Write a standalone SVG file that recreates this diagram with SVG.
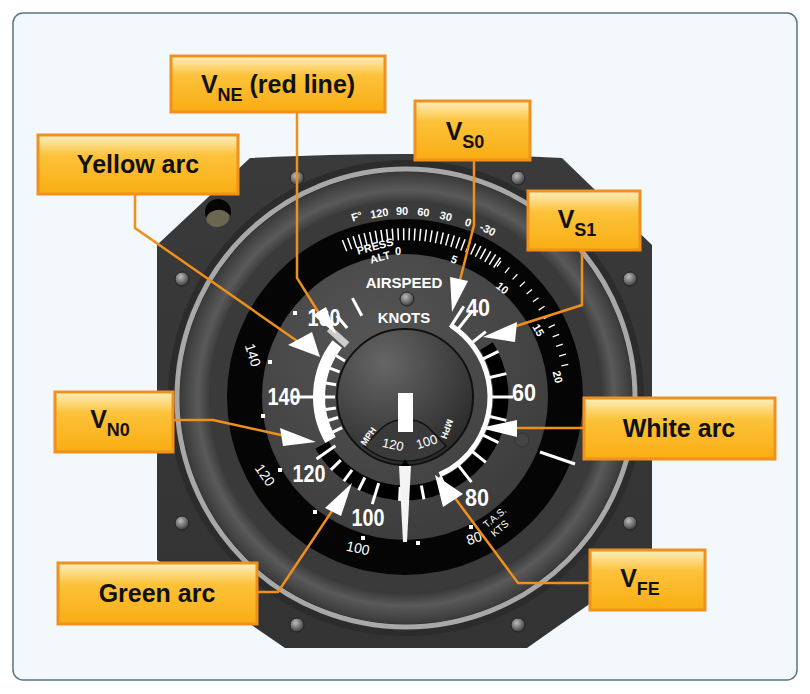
<svg xmlns="http://www.w3.org/2000/svg" width="810" height="694" viewBox="0 0 810 694">
<defs>
<style>
text{font-family:"Liberation Sans",Arial,sans-serif;}
.box rect{fill:url(#bg);stroke:#f0901e;stroke-width:3;}
.box text{font-weight:bold;font-size:25px;fill:#111;text-anchor:middle;}
.lead{fill:none;stroke:#ef8f1c;stroke-width:2.5;}
.arr{fill:#fff;}
.kn{font-weight:bold;font-size:23px;fill:#fff;text-anchor:middle;}
.sm{font-size:11px;font-weight:bold;fill:#fff;text-anchor:middle;}
.tas{font-size:14px;fill:#fff;text-anchor:middle;}
.tk line{stroke:#fff;stroke-width:3;}
.screw{fill:url(#sc);stroke:#222;stroke-width:1;}
</style>
<linearGradient id="bg" x1="0" y1="0" x2="0" y2="1"><stop offset="0" stop-color="#fdf0c0"/><stop offset="0.35" stop-color="#fcc23a"/><stop offset="1" stop-color="#f9ad12"/></linearGradient>
<linearGradient id="plate" x1="0" y1="0" x2="0" y2="1"><stop offset="0" stop-color="#3a3a3a"/><stop offset="1" stop-color="#333"/></linearGradient>
<radialGradient id="sc" cx="0.4" cy="0.35" r="0.7"><stop offset="0" stop-color="#bbb"/><stop offset="1" stop-color="#333"/></radialGradient>
<radialGradient id="ring" cx="0.5" cy="0.5" r="0.5"><stop offset="0.84" stop-color="#2a2a2a"/><stop offset="0.92" stop-color="#5a5a5a"/><stop offset="1" stop-color="#3a3a3a"/></radialGradient>
<radialGradient id="face" cx="0.4" cy="0.3" r="0.8"><stop offset="0" stop-color="#555"/><stop offset="1" stop-color="#3a3a3a"/></radialGradient>
<radialGradient id="hub" cx="0.35" cy="0.25" r="0.85"><stop offset="0" stop-color="#666"/><stop offset="1" stop-color="#262626"/></radialGradient>
</defs>
<rect x="13" y="13" width="784" height="667" rx="10" fill="#f3f8fc" stroke="#5a7385" stroke-width="1.5"/>

<g id="instrument">
<path d="M250,158 Q405,150 562,158 L652,245 L652,560 L527,648 L285,648 L157,560 L157,245 Z" fill="url(#plate)"/>
<circle cx="218" cy="212" r="13" fill="#050505"/>
<path d="M207,222 A13,13 0 0 0 230,216 A12,9 0 0 0 207,222 Z" fill="#6b6650"/>
<circle class="screw" cx="297" cy="178" r="7"/><circle class="screw" cx="518" cy="178" r="7"/>
<circle class="screw" cx="182" cy="279" r="7"/><circle class="screw" cx="630" cy="279" r="7"/>
<circle class="screw" cx="182" cy="523" r="7"/><circle class="screw" cx="630" cy="523" r="7"/>
<circle class="screw" cx="297" cy="625" r="7"/><circle class="screw" cx="518" cy="625" r="7"/>
<circle cx="406" cy="398" r="238" fill="#2c2c2c"/>
<circle cx="406" cy="398" r="229" fill="none" stroke="#a8a8a8" stroke-width="5"/>
<circle cx="406" cy="398" r="226" fill="url(#ring)"/>
<circle cx="405" cy="397" r="196" fill="#3a3a3a"/>
<circle cx="405" cy="397" r="178" fill="#050505"/>
<circle cx="405" cy="397" r="143" fill="url(#face)"/>

<path d="M343.9,245.9 A164,164 0 0 1 498.5,263.5" fill="none" stroke="#fff" stroke-width="12" stroke-dasharray="1.5 4"/>
<path d="M498.5,263.5 A164,164 0 0 1 566.4,374.3" fill="none" stroke="#fff" stroke-width="7" stroke-dasharray="1.3 9"/>
<text class="sm" x="358" y="220" transform="rotate(-18 358 220)">F°</text>
<text class="sm" x="380" y="217" transform="rotate(-10 380 217)">120</text>
<text class="sm" x="402" y="215">90</text>
<text class="sm" x="423" y="216" transform="rotate(6 423 216)">60</text>
<text class="sm" x="445" y="220" transform="rotate(14 445 220)">30</text>
<text class="sm" x="467" y="226" transform="rotate(20 467 226)">0</text>
<text class="sm" x="486" y="233" transform="rotate(26 486 233)">-30</text>
<text class="sm" x="376" y="250" font-weight="normal" transform="rotate(-15 376 250)">PRESS</text>
<text class="sm" x="381" y="261" font-weight="normal" transform="rotate(-15 381 261)">ALT</text>
<text class="sm" x="398" y="255">0</text>
<text class="sm" x="453" y="263" transform="rotate(20 453 263)">5</text>
<text class="sm" x="500" y="291" transform="rotate(38 500 291)">10</text>
<text class="sm" x="535" y="332" transform="rotate(60 535 332)">15</text>
<text class="sm" x="554" y="378" transform="rotate(75 554 378)">20</text>
<line x1="540" y1="452" x2="575" y2="464" stroke="#fff" stroke-width="3"/>

<text class="tas" x="253" y="360" transform="rotate(72 253 355)">140</text>
<text class="tas" x="265" y="480" transform="rotate(55 265 475)">120</text>
<text class="tas" x="358" y="553" transform="rotate(12 358 548)">100</text>
<text class="tas" x="474" y="543" transform="rotate(-18 474 538)">80</text>
<text x="497" y="520" font-size="10" fill="#fff" text-anchor="middle" transform="rotate(-40 497 520)">T.A.S.</text>
<text x="502" y="531" font-size="10" fill="#fff" text-anchor="middle" transform="rotate(-40 502 531)">KTS</text>
<g fill="#fff"><rect x="293" y="311" width="4" height="4"/><rect x="268" y="360" width="4" height="4"/><rect x="261" y="414" width="4" height="4"/><rect x="278" y="468" width="4" height="4"/><rect x="313" y="510" width="4" height="4"/><rect x="361" y="536" width="4" height="4"/><rect x="416" y="541" width="4" height="4"/><rect x="469" y="525" width="4" height="4"/></g>

<text x="404" y="288" font-weight="bold" font-size="15" fill="#fff" text-anchor="middle">AIRSPEED</text>
<text x="404" y="323" font-weight="bold" font-size="15" fill="#fff" text-anchor="middle">KNOTS</text>
<circle class="screw" cx="407" cy="299" r="7"/>
<circle cx="522" cy="440" r="7" fill="#444" stroke="#333"/>

<g transform="translate(405 397)" fill="none">
<circle r="96" stroke="#000" stroke-width="15" pathLength="360" stroke-dasharray="182 178" transform="rotate(-32)"/>
<circle r="85" stroke="#fff" stroke-width="5" pathLength="360" stroke-dasharray="123 237" transform="rotate(-57)"/>
<circle r="86" stroke="#fff" stroke-width="12" pathLength="360" stroke-dasharray="68 292" transform="rotate(150)"/>
<g class="tk">
<line x1="83" x2="108" transform="rotate(-57)"/>
<line x1="85" x2="110" transform="rotate(-52)"/>
<line x1="87" x2="104" transform="rotate(-39)"/>
<line x1="87" x2="104" transform="rotate(-26)"/>
<line x1="87" x2="104" transform="rotate(-13)"/>
<line x1="85" x2="108" transform="rotate(0)"/>
<line x1="87" x2="104" transform="rotate(13)"/>
<line x1="87" x2="104" transform="rotate(26)"/>
<line x1="87" x2="104" transform="rotate(39)"/>
<line x1="87" x2="108" transform="rotate(52)"/>
<line x1="87" x2="104" transform="rotate(66)"/>
<line x1="90" x2="104" transform="rotate(79.5)"/>
<line x1="90" x2="104" transform="rotate(93)"/>
<line x1="90" x2="112" transform="rotate(107)"/>
<line x1="90" x2="104" transform="rotate(116.5)"/>
<line x1="90" x2="104" transform="rotate(126)"/>
<line x1="90" x2="104" transform="rotate(135.5)"/>
<line x1="85" x2="108" transform="rotate(145)"/>
<line x1="70" x2="82" transform="rotate(154)"/>
<line x1="70" x2="82" transform="rotate(163)"/>
<line x1="70" x2="82" transform="rotate(171)"/>
<line x1="70" x2="82" transform="rotate(180)"/>
<line x1="92" x2="112" transform="rotate(180)"/>
<line x1="70" x2="82" transform="rotate(190)"/>
<line x1="70" x2="82" transform="rotate(201)"/>
<line x1="70" x2="82" transform="rotate(211)"/>
<line x1="90" x2="106" transform="rotate(230)"/>
<line x1="92" x2="112" transform="rotate(242)"/>
</g>
<line x1="78" x2="102" stroke="#ccc" stroke-width="7" transform="rotate(222)"/>
</g>
<text class="kn" x="478" y="316" textLength="24" lengthAdjust="spacingAndGlyphs">40</text>
<text class="kn" x="524" y="401" textLength="24" lengthAdjust="spacingAndGlyphs">60</text>
<text class="kn" x="477" y="506" textLength="24" lengthAdjust="spacingAndGlyphs">80</text>
<text class="kn" x="368" y="526" textLength="33" lengthAdjust="spacingAndGlyphs">100</text>
<text class="kn" x="309" y="482" textLength="33" lengthAdjust="spacingAndGlyphs">120</text>
<text class="kn" x="284" y="405" textLength="33" lengthAdjust="spacingAndGlyphs">140</text>
<text class="kn" x="324" y="326" textLength="33" lengthAdjust="spacingAndGlyphs">160</text>

<circle cx="405" cy="397" r="68" fill="url(#hub)" stroke="#111" stroke-width="2"/>
<path d="M383,427 A37,37 0 0 1 428,427 L446,446 A63,63 0 0 1 364,446 Z" fill="#3a3a3a" stroke="#111" stroke-width="1.5"/>
<text x="392" y="449" font-size="13" fill="#fff" text-anchor="middle" transform="rotate(12 392 449)">120</text>
<text x="428" y="446" font-size="13" fill="#fff" text-anchor="middle" transform="rotate(-18 428 446)">100</text>
<text x="371" y="438" font-size="9" font-weight="bold" fill="#fff" text-anchor="middle" transform="rotate(-55 371 438)">MPH</text>
<text x="444" y="428" font-size="9" font-weight="bold" fill="#fff" text-anchor="middle" transform="rotate(110 444 428)">MPH</text>
<rect x="398" y="393" width="15" height="39" fill="#fff"/>
<path d="M399,466 L411,466 L407,542 L403,542 Z" fill="#f4f4f4"/>
<path d="M405,459 L409,466 L401,466 Z" fill="#000"/>
</g>

<g id="connectors">
<path class="lead" d="M135,195 L135,228 L300,343"/>
<path class="lead" d="M297,112 L297,278 L322,318"/>
<path class="lead" d="M474,161 L474,225 L460,280"/>
<path class="lead" d="M582,251 L582,305 L513,327"/>
<path class="lead" d="M583,428 L515,428"/>
<path class="lead" d="M174,420 L213,420 L290,437"/>
<path class="lead" d="M257,592 L278,592 L336,505"/>
<path class="lead" d="M590,583 L518,583 L455,498"/>
<polygon class="arr" points="288,345 312,332 320,357"/>
<polygon class="arr" points="313,315 326,307 336,334"/>
<polygon class="arr" points="450,277 468,281 452,312"/>
<polygon class="arr" points="483,337 517,322 515,342"/>
<polygon class="arr" points="480,428 517,420 517,437"/>
<polygon class="arr" points="280,428 283,446 316,442"/>
<polygon class="arr" points="325,508 341,516 352,483"/>
<polygon class="arr" points="443,507 463,494 435,475"/>
</g>

<g id="vne" class="box"><rect x="171" y="56" width="214" height="56"/><text x="278" y="93">V<tspan font-size="18" dy="8">NE</tspan><tspan dy="-8"> (red line)</tspan></text></g>
<g id="yellow" class="box"><rect x="38" y="135" width="200" height="59"/><text x="138" y="173">Yellow arc</text></g>
<g id="vs0" class="box"><rect x="415" y="101" width="115" height="59"/><text x="465" y="140">V<tspan font-size="18" dy="8">S0</tspan></text></g>
<g id="vs1" class="box"><rect x="528" y="191" width="112" height="59"/><text x="577" y="228">V<tspan font-size="18" dy="8">S1</tspan></text></g>
<g id="vn0" class="box"><rect x="55" y="392" width="118" height="60"/><text x="110" y="428">V<tspan font-size="18" dy="8">N0</tspan></text></g>
<g id="white" class="box"><rect x="584" y="398" width="191" height="61"/><text x="679" y="437">White arc</text></g>
<g id="green" class="box"><rect x="58" y="563" width="199" height="61"/><text x="157" y="602">Green arc</text></g>
<g id="vfe" class="box"><rect x="590" y="550" width="115" height="60"/><text x="640" y="587">V<tspan font-size="18" dy="8">FE</tspan></text></g>
</svg>
